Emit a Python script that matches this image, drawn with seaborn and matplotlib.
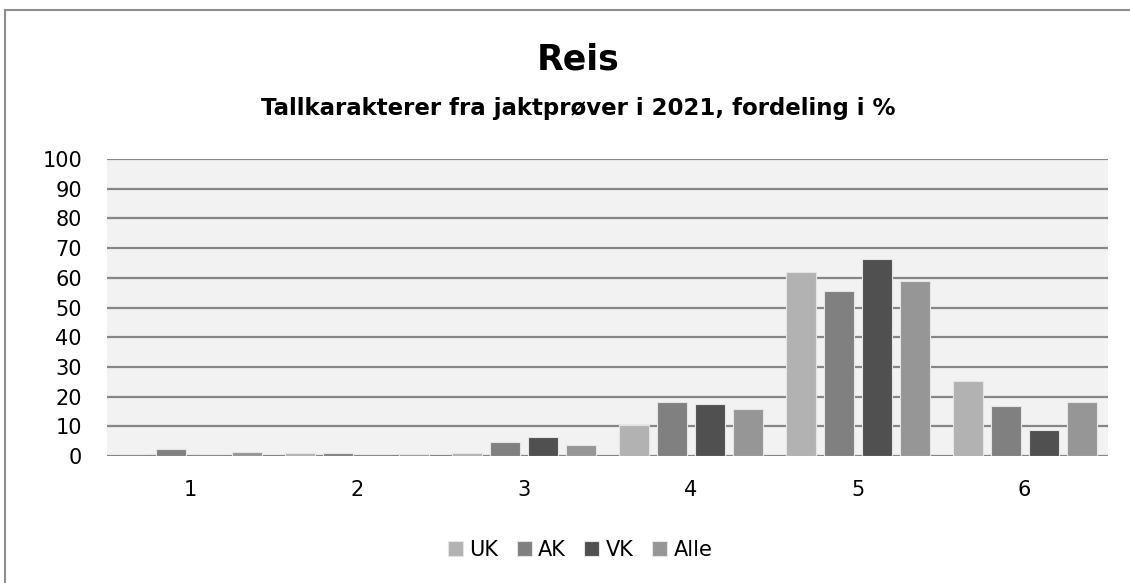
import matplotlib
matplotlib.use("Agg")
import matplotlib.pyplot as plt
import seaborn as sns
import pandas as pd
from matplotlib.patches import Rectangle

categories = ["1", "2", "3", "4", "5", "6"]
series_names = ["UK", "AK", "VK", "Alle"]
uk = [0.0, 0.9, 0.9, 10.4, 61.9, 25.2]
ak = [2.5, 1.0, 4.6, 18.1, 55.7, 16.9]
vk = [0.0, 0.0, 6.5, 17.6, 66.4, 8.8]
alle = [1.3, 0.7, 3.8, 15.8, 59.0, 18.2]
colors = ["#b2b2b2", "#808080", "#505050", "#969696"]
title = "Reis"
subtitle = "Tallkarakterer fra jaktprøver i 2021, fordeling i %"
yticks = list(range(0, 101, 10))

rows = []
for name, vals in zip(series_names, [uk, ak, vk, alle]):
    for c, v in zip(categories, vals):
        rows.append({"Karakter": c, "Prosent": v, "Gruppe": name})
df = pd.DataFrame(rows)

sns.set_theme(style="white")
plt.rcParams["font.family"] = ["DejaVu Sans"]
plt.rcParams["text.color"] = "black"

W, H = 1130, 583
fig = plt.figure(figsize=(W / 100, H / 100), dpi=100)
ax = fig.add_axes([107 / W, 1 - 456 / H, (1108 - 107) / W, (456 - 159) / H])
ax.set_facecolor("#f2f2f2")

sns.barplot(data=df, x="Karakter", y="Prosent", hue="Gruppe", order=categories,
            hue_order=series_names, palette=colors, width=0.91, gap=0.21,
            edgecolor="#e4e4e4", linewidth=0.8, errorbar=None, ax=ax, zorder=3)

ax.set_ylim(0, 100)
ax.set_xlim(-0.5, 5.5)
ax.set_yticks(yticks)
ax.set_yticklabels([str(t) for t in yticks], fontsize=15, color="black")
ax.tick_params(axis="x", labelsize=15, labelcolor="black", length=0, pad=17)
ax.tick_params(axis="y", length=0, pad=18)
for t in yticks:
    ax.axhline(t, color="#868686", lw=1.6, zorder=1)
for s in ax.spines.values():
    s.set_visible(False)
ax.set_xlabel("")
ax.set_ylabel("")

cx = 578 / W
fig.text(cx, 1 - 69 / H, title, ha="center", va="baseline", fontsize=25,
         fontweight="bold", color="black")
fig.text(cx, 1 - 115 / H, subtitle, ha="center", va="baseline", fontsize=16.5,
         fontweight="bold", color="black")

handles, labels = ax.get_legend_handles_labels()
ax.legend_.remove()
fig.legend(handles, labels, loc="center", bbox_to_anchor=(580 / W, 1 - 550 / H), ncol=4,
           frameon=False, fontsize=15, handlelength=0.72, handleheight=0.72,
           handletextpad=0.3, columnspacing=0.9, labelcolor="black")

fig.patches.append(Rectangle((5 / W, -0.01), 1.02, 1 - 10 / H + 0.01, transform=fig.transFigure,
                             fill=False, edgecolor="#8c8c8c", lw=1.5))

fig.savefig("out.png", dpi=100)
